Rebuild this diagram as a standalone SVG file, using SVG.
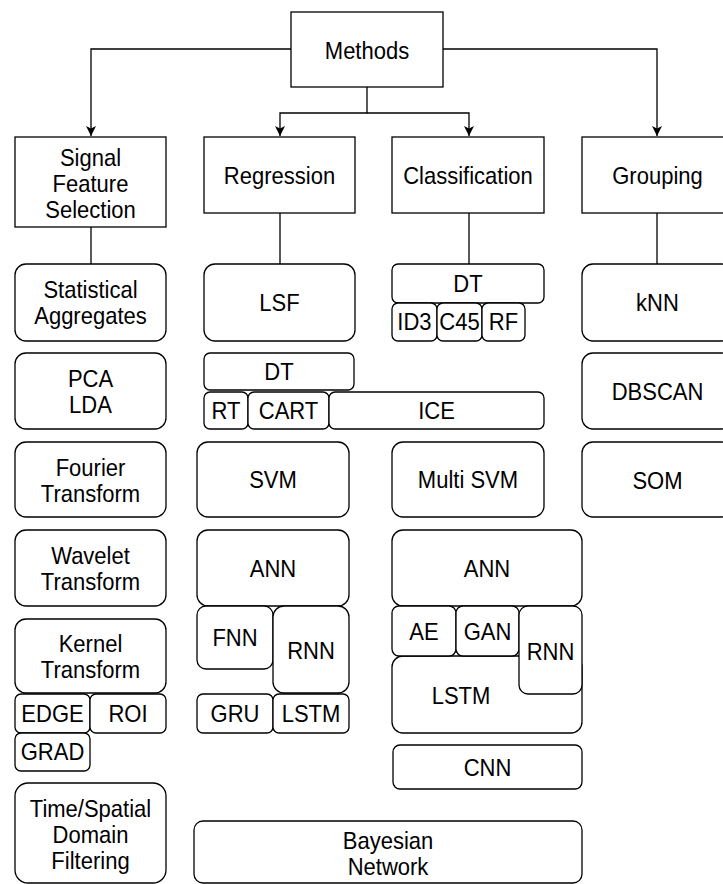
<svg xmlns="http://www.w3.org/2000/svg" width="723" height="884" viewBox="0 0 723 884">
  <style>
    .box { fill: #fff; stroke: #000; stroke-width: 1.3; }
    .edge { fill: none; stroke: #000; stroke-width: 1.3; }
    text { font-family: "Liberation Sans", Arial, Helvetica, sans-serif; font-size: 24px; fill: #000; text-anchor: middle;
           transform-box: fill-box; transform-origin: center; transform: scaleX(0.917); }
  </style>
  <defs>
    <marker id="arrow" markerUnits="userSpaceOnUse" markerWidth="12" markerHeight="12" refX="10" refY="5" orient="auto">
      <path d="M0,0 L10,5 L0,10 L2.5,5 Z" fill="#000"/>
    </marker>
  </defs>
  <rect width="723" height="884" fill="#fff"/>

  <!-- connectors -->
  <g id="connectors">
    <path class="edge" d="M291,49 H91 V136" marker-end="url(#arrow)"/>
    <path class="edge" d="M443,49 H657 V136" marker-end="url(#arrow)"/>
    <path class="edge" d="M367,87 V113 H280 V136" marker-end="url(#arrow)"/>
    <path class="edge" d="M367,113 H469 V136" marker-end="url(#arrow)"/>
    <path class="edge" d="M91,227 V264"/>
    <path class="edge" d="M280,213 V264"/>
    <path class="edge" d="M469,213 V264"/>
    <path class="edge" d="M657,213 V264"/>
  </g>

  <!-- top level -->
  <g id="methods">
    <rect class="box" x="291" y="12" width="152" height="75"/>
    <text x="367" y="59">Methods</text>
  </g>
  <g id="signal">
    <rect class="box" x="15" y="137" width="151" height="90"/>
    <text x="90.5" y="166">Signal</text>
    <text x="90.5" y="192">Feature</text>
    <text x="90.5" y="218">Selection</text>
  </g>
  <g id="regression">
    <rect class="box" x="204" y="137" width="151" height="76"/>
    <text x="279.5" y="184">Regression</text>
  </g>
  <g id="classification">
    <rect class="box" x="392" y="137" width="152" height="76"/>
    <text x="468" y="184">Classification</text>
  </g>
  <g id="grouping">
    <rect class="box" x="582" y="137" width="151" height="76"/>
    <text x="657.5" y="184">Grouping</text>
  </g>

  <!-- signal feature selection column -->
  <g id="stat-agg">
    <rect class="box" x="15" y="264" width="151" height="77" rx="11"/>
    <text x="90.5" y="298">Statistical</text>
    <text x="90.5" y="324">Aggregates</text>
  </g>
  <g id="pca-lda">
    <rect class="box" x="15" y="353" width="151" height="76" rx="11"/>
    <text x="90.5" y="387">PCA</text>
    <text x="90.5" y="413">LDA</text>
  </g>
  <g id="fourier">
    <rect class="box" x="15" y="442" width="151" height="75" rx="11"/>
    <text x="90.5" y="476">Fourier</text>
    <text x="90.5" y="502">Transform</text>
  </g>
  <g id="wavelet">
    <rect class="box" x="15" y="530" width="151" height="76" rx="11"/>
    <text x="90.5" y="564">Wavelet</text>
    <text x="90.5" y="590">Transform</text>
  </g>
  <g id="kernel">
    <rect class="box" x="15" y="619" width="151" height="74" rx="11"/>
    <text x="90.5" y="652">Kernel</text>
    <text x="90.5" y="678">Transform</text>
  </g>
  <g id="edge-op">
    <rect class="box" x="15" y="694" width="75" height="39" rx="6"/>
    <text x="52.5" y="722">EDGE</text>
  </g>
  <g id="roi">
    <rect class="box" x="90" y="694" width="76" height="39" rx="6"/>
    <text x="128" y="722">ROI</text>
  </g>
  <g id="grad">
    <rect class="box" x="15" y="733" width="75" height="38" rx="6"/>
    <text x="52.5" y="760">GRAD</text>
  </g>
  <g id="time-spatial">
    <rect class="box" x="15" y="783" width="151" height="100" rx="13"/>
    <text x="90.5" y="817">Time/Spatial</text>
    <text x="90.5" y="843">Domain</text>
    <text x="90.5" y="869">Filtering</text>
  </g>

  <!-- regression column -->
  <g id="lsf">
    <rect class="box" x="204" y="264" width="151" height="77" rx="11"/>
    <text x="279.5" y="311">LSF</text>
  </g>
  <g id="dt-reg">
    <rect class="box" x="204" y="353" width="150" height="37" rx="6"/>
    <text x="279" y="380">DT</text>
  </g>
  <g id="rt">
    <rect class="box" x="204" y="392" width="44" height="37" rx="6"/>
    <text x="226" y="419">RT</text>
  </g>
  <g id="cart">
    <rect class="box" x="248" y="392" width="81" height="37" rx="6"/>
    <text x="288.5" y="419">CART</text>
  </g>
  <g id="ice">
    <rect class="box" x="329" y="392" width="215" height="37" rx="6"/>
    <text x="436.5" y="419">ICE</text>
  </g>
  <g id="svm">
    <rect class="box" x="197" y="442" width="152" height="75" rx="11"/>
    <text x="273" y="488">SVM</text>
  </g>
  <g id="ann-reg">
    <rect class="box" x="197" y="530" width="152" height="76" rx="11"/>
    <text x="273" y="577">ANN</text>
  </g>
  <g id="fnn">
    <rect class="box" x="197" y="606" width="76" height="63" rx="9"/>
    <text x="235" y="646">FNN</text>
  </g>
  <g id="rnn-reg">
    <rect class="box" x="273" y="606" width="76" height="87" rx="11"/>
    <text x="311" y="659">RNN</text>
  </g>
  <g id="gru">
    <rect class="box" x="197" y="694" width="76" height="39" rx="6"/>
    <text x="235" y="722">GRU</text>
  </g>
  <g id="lstm-reg">
    <rect class="box" x="273" y="694" width="76" height="39" rx="6"/>
    <text x="311" y="722">LSTM</text>
  </g>
  <g id="bayesian">
    <rect class="box" x="194" y="821" width="388" height="62" rx="9"/>
    <text x="388" y="849">Bayesian</text>
    <text x="388" y="875">Network</text>
  </g>

  <!-- classification column -->
  <g id="dt-cls">
    <rect class="box" x="392" y="264" width="152" height="39" rx="6"/>
    <text x="468" y="292">DT</text>
  </g>
  <g id="id3">
    <rect class="box" x="392" y="303" width="45" height="38" rx="6"/>
    <text x="414.5" y="330">ID3</text>
  </g>
  <g id="c45">
    <rect class="box" x="437" y="303" width="45" height="38" rx="6"/>
    <text x="459.5" y="330">C45</text>
  </g>
  <g id="rf">
    <rect class="box" x="482" y="303" width="43" height="38" rx="6"/>
    <text x="503.5" y="330">RF</text>
  </g>
  <g id="multi-svm">
    <rect class="box" x="392" y="442" width="152" height="75" rx="11"/>
    <text x="468" y="488">Multi SVM</text>
  </g>
  <g id="ann-cls">
    <rect class="box" x="392" y="530" width="190" height="76" rx="11"/>
    <text x="487" y="577">ANN</text>
  </g>
  <g id="lstm-cls">
    <rect class="box" x="392" y="656" width="190" height="77" rx="11"/>
    <text x="461" y="704">LSTM</text>
  </g>
  <g id="ae">
    <rect class="box" x="392" y="606" width="64" height="50" rx="7"/>
    <text x="424" y="640">AE</text>
  </g>
  <g id="gan">
    <rect class="box" x="456" y="606" width="63" height="50" rx="7"/>
    <text x="487.5" y="640">GAN</text>
  </g>
  <g id="rnn-cls">
    <rect class="box" x="519" y="606" width="63" height="88" rx="9"/>
    <text x="550.5" y="660">RNN</text>
  </g>
  <g id="cnn">
    <rect class="box" x="393" y="745" width="189" height="44" rx="7"/>
    <text x="487.5" y="776">CNN</text>
  </g>

  <!-- grouping column -->
  <g id="knn">
    <rect class="box" x="582" y="264" width="151" height="77" rx="11"/>
    <text x="657.5" y="311">kNN</text>
  </g>
  <g id="dbscan">
    <rect class="box" x="582" y="353" width="151" height="76" rx="11"/>
    <text x="657.5" y="400">DBSCAN</text>
  </g>
  <g id="som">
    <rect class="box" x="582" y="442" width="151" height="75" rx="11"/>
    <text x="657.5" y="489">SOM</text>
  </g>
</svg>
